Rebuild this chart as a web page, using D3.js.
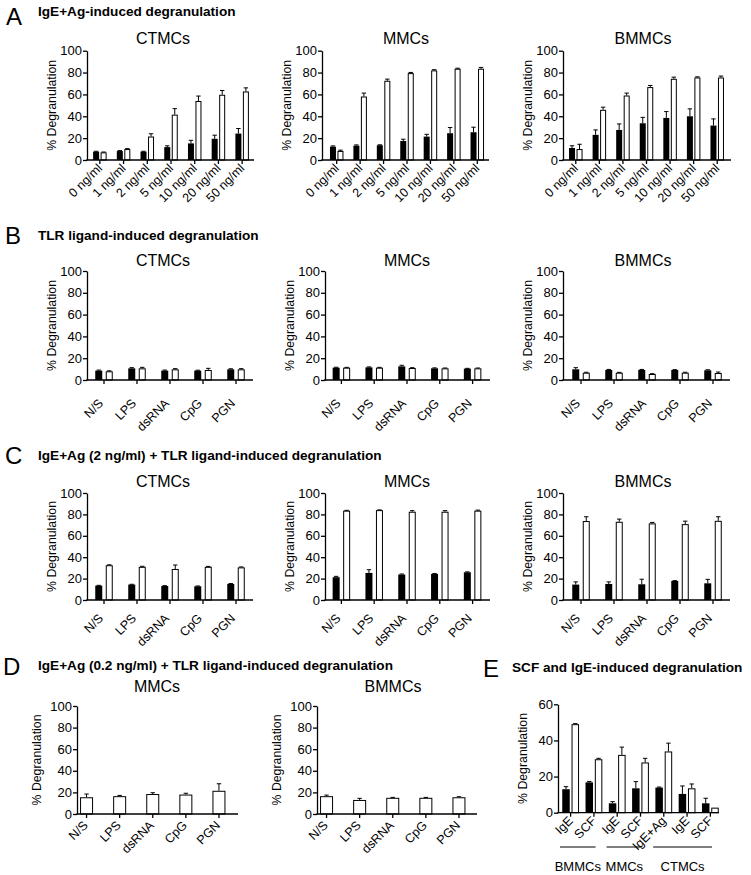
<!DOCTYPE html>
<html><head><meta charset="utf-8">
<script src="https://cdn.jsdelivr.net/npm/d3@7"></script>
<style>
body{margin:0;background:#fff}
svg text{font-family:"Liberation Sans",Arial,Helvetica,sans-serif;fill:#000}
</style>
</head><body>
<svg id="chart" width="751" height="875"></svg>
<script>
// ---------- categories / tick labels ----------
const concLabels = ["0 ng/ml","1 ng/ml","2 ng/ml","5 ng/ml","10 ng/ml","20 ng/ml","50 ng/ml"];
const tlrLabels = ["N/S","LPS","dsRNA","CpG","PGN"];
const eLabels = ["IgE","SCF","IgE","SCF","IgE+Ag","IgE","SCF"];
const eGroups = ["BMMCs","MMCs","CTMCs"];
const eGroupSpans = [[0,1],[2,3],[4,6]];
const yTicks100 = [0,20,40,60,80,100];
const yTicks60 = [0,20,40,60];

// ---------- Panel A: IgE+Ag ----------
const aCtmcsBlack    = [7.6, 8.2, 7.6, 11.8, 15.2, 19.4, 24.2];
const aCtmcsBlackErr = [0.4, 0.4, 0.4, 1.2, 2.8, 3.3, 4.6];
const aCtmcsWhite    = [7.0, 10.0, 21.5, 41.5, 54.0, 59.7, 62.7];
const aCtmcsWhiteErr = [0.3, 0.4, 2.5, 5.5, 4.5, 3.9, 3.3];
const aMmcsBlack     = [12.2, 13.1, 13.5, 17.4, 21.4, 24.5, 25.4];
const aMmcsBlackErr  = [0.7, 0.7, 0.4, 1.6, 2.1, 5.2, 4.6];
const aMmcsWhite     = [8.3, 58.1, 72.5, 79.5, 82.0, 83.5, 83.5];
const aMmcsWhiteErr  = [0.7, 3.1, 1.5, 0.6, 0.6, 0.5, 1.2];
const aBmmcsBlack    = [11.0, 23.0, 27.5, 33.6, 38.5, 40.0, 31.5];
const aBmmcsBlackErr = [2.0, 4.5, 5.5, 5.4, 5.8, 6.8, 6.1];
const aBmmcsWhite    = [10.0, 45.9, 59.0, 66.7, 74.3, 75.5, 75.5];
const aBmmcsWhiteErr = [4.4, 2.4, 2.2, 1.5, 1.5, 0.6, 1.3];

// ---------- Panel B: TLR ligand ----------
const bCtmcsBlack    = [8.6, 10.7, 8.6, 8.6, 9.8];
const bCtmcsBlackErr = [0.5, 0.6, 0.5, 0.4, 0.5];
const bCtmcsWhite    = [8.0, 10.7, 9.8, 9.2, 9.8];
const bCtmcsWhiteErr = [0.4, 0.9, 0.6, 1.5, 0.6];
const bMmcsBlack     = [11.3, 11.6, 12.5, 10.7, 10.4];
const bMmcsBlackErr  = [0.4, 0.4, 1.0, 0.4, 0.3];
const bMmcsWhite     = [11.3, 11.3, 11.0, 10.7, 10.7];
const bMmcsWhiteErr  = [0.3, 0.3, 0.3, 0.3, 0.3];
const bBmmcsBlack    = [9.8, 9.2, 9.2, 9.2, 8.9];
const bBmmcsBlackErr = [1.5, 0.5, 0.5, 0.3, 0.5];
const bBmmcsWhite    = [6.7, 6.7, 5.5, 6.7, 6.4];
const bBmmcsWhiteErr = [0.4, 0.3, 0.3, 0.4, 0.9];

// ---------- Panel C: IgE+Ag (2 ng/ml) + TLR ----------
const cCtmcsBlack    = [13.4, 14.4, 13.1, 12.8, 15.0];
const cCtmcsBlackErr = [0.3, 0.3, 0.3, 0.3, 0.4];
const cCtmcsWhite    = [32.5, 31.0, 29.0, 31.0, 30.5];
const cCtmcsWhiteErr = [0.4, 0.5, 3.7, 0.4, 0.4];
const cMmcsBlack     = [21.3, 25.3, 23.8, 24.4, 25.9];
const cMmcsBlackErr  = [0.8, 3.0, 0.5, 0.3, 0.4];
const cMmcsWhite     = [83.5, 84.0, 82.5, 82.5, 83.5];
const cMmcsWhiteErr  = [0.3, 0.2, 1.0, 1.0, 0.5];
const cBmmcsBlack    = [14.4, 15.0, 14.7, 17.8, 15.6];
const cBmmcsBlackErr = [2.5, 1.9, 4.7, 0.3, 3.7];
const cBmmcsWhite    = [73.8, 73.1, 71.6, 70.9, 74.0];
const cBmmcsWhiteErr = [4.0, 2.5, 0.9, 2.8, 3.8];

// ---------- Panel D: IgE+Ag (0.2 ng/ml) + TLR (one series) ----------
const dMmcsWhite     = [15.5, 16.5, 18.5, 18.0, 21.5];
const dMmcsWhiteErr  = [3.0, 0.7, 1.2, 1.2, 6.5];
const dBmmcsWhite    = [16.5, 13.0, 15.0, 15.0, 15.5];
const dBmmcsWhiteErr = [1.0, 1.5, 0.4, 0.4, 0.5];

// ---------- Panel E: SCF and IgE ----------
const eBlack    = [13.0, 16.8, 5.2, 13.5, 13.9, 10.4, 5.2];
const eBlackErr = [1.4, 0.5, 0.9, 3.7, 0.3, 4.4, 2.8];
const eWhite    = [49.0, 29.6, 32.0, 27.8, 33.9, 13.5, 2.8];
const eWhiteErr = [0.3, 0.5, 4.3, 2.3, 4.6, 2.4, 0.0];

// ---------- drawing ----------
const svg = d3.select("#chart");
svg.append("rect").attr("width",751).attr("height",875).attr("fill","#fff");

function heading(letter, lx, ly, text, tx, ty){
  svg.append("text").attr("x",lx).attr("y",ly).attr("font-size",24).text(letter);
  svg.append("text").attr("x",tx).attr("y",ty).attr("font-size",13.6).attr("font-weight","bold").text(text);
}

function panel(c){
  const n = c.cats.length;
  const x = d3.scaleBand().domain(d3.range(n)).range(c.band);
  const y = d3.scaleLinear().domain([0,c.yMax]).range([c.yBot,c.yTop]);
  const g = svg.append("g");
  const cx = i => x(i) + x.bandwidth()/2;
  const bw = c.bw, gap = c.gap;

  function errs(vals, errv, xc){
    vals.forEach((v,i)=>{
      const e = errv[i]; if(e<=0) return;
      const xm = xc(i);
      g.append("line").attr("x1",xm).attr("x2",xm).attr("y1",y(v)).attr("y2",y(v+e)).attr("stroke","#000").attr("stroke-width",1);
      g.append("line").attr("x1",xm-2.2).attr("x2",xm+2.2).attr("y1",y(v+e)).attr("y2",y(v+e)).attr("stroke","#000").attr("stroke-width",1);
    });
  }
  if(c.black){
    const xb = i => cx(i) - gap/2 - bw/2;
    const xw = i => cx(i) + gap/2 + bw/2;
    errs(c.black, c.blackErr, xb);
    errs(c.white, c.whiteErr, xw);
    g.selectAll(null).data(c.black).enter().append("rect")
      .attr("x",(d,i)=>xb(i)-bw/2).attr("width",bw)
      .attr("y",d=>y(d)).attr("height",d=>y(0)-y(d)).attr("fill","#000");
    g.selectAll(null).data(c.white).enter().append("rect")
      .attr("x",(d,i)=>xw(i)-bw/2+0.5).attr("width",bw-1)
      .attr("y",d=>y(d)+0.5).attr("height",d=>Math.max(0,y(0)-y(d)-0.5))
      .attr("fill","#fff").attr("stroke","#000").attr("stroke-width",1);
  } else {
    errs(c.white, c.whiteErr, cx);
    g.selectAll(null).data(c.white).enter().append("rect")
      .attr("x",(d,i)=>cx(i)-bw/2+0.5).attr("width",bw-1)
      .attr("y",d=>y(d)+0.5).attr("height",d=>Math.max(0,y(0)-y(d)-0.5))
      .attr("fill","#fff").attr("stroke","#000").attr("stroke-width",1);
  }

  // y axis
  const ya = g.append("g").attr("transform",`translate(${c.x0},0)`)
    .call(d3.axisLeft(y).tickValues(c.ticks).tickSize(4).tickSizeOuter(0).tickPadding(1));
  ya.selectAll("text").attr("font-size",13).attr("font-family","Liberation Sans, Arial, sans-serif");
  ya.selectAll("line,path").attr("stroke","#000").attr("stroke-width",1.3);

  // x axis
  const xa = g.append("g").attr("transform",`translate(0,${c.yBot})`)
    .call(d3.axisBottom(x).tickSize(4).tickSizeOuter(0).tickFormat(""));
  xa.select(".domain").remove();
  xa.selectAll("line").attr("stroke","#000").attr("stroke-width",1.3);
  g.append("line").attr("x1",c.x0-0.65).attr("x2",c.xEnd).attr("y1",c.yBot).attr("y2",c.yBot)
    .attr("stroke","#000").attr("stroke-width",1.3);

  // x labels (rotated)
  c.cats.forEach((t,i)=>{
    g.append("text").attr("transform",`translate(${cx(i)+c.ldx},${c.yBot+c.ldy}) rotate(-45)`)
      .attr("text-anchor","end").attr("font-size",12.5).text(t);
  });

  // y title
  const ym = (c.yTop+c.yBot)/2;
  g.append("text").attr("transform",`translate(${c.x0-c.ylabOff},${ym}) rotate(-90)`)
    .attr("text-anchor","middle").attr("font-size",12.3).text("% Degranulation");

  // panel title
  if(c.title){
    g.append("text").attr("x",c.titleX).attr("y",c.titleY).attr("text-anchor","middle")
      .attr("font-size",16).text(c.title);
  }
  return {x, y, cx};
}

// Headings
heading("A", 6, 25, "IgE+Ag-induced degranulation", 38, 16);
heading("B", 5, 244, "TLR ligand-induced degranulation", 38, 240);
heading("C", 5, 464, "IgE+Ag (2 ng/ml) + TLR ligand-induced degranulation", 38, 460);
heading("D", 3, 675, "IgE+Ag (0.2 ng/ml) + TLR ligand-induced degranulation", 38, 670);
heading("E", 483, 677, "SCF and IgE-induced degranulation", 512, 672);

// Row A
const A = {yTop:50.7, yBot:160, yMax:100, ticks:yTicks100, cats:concLabels, bw:6, gap:1.5, ldx:3, ldy:9, ylabOff:31};
panel(Object.assign({}, A, {x0:87,  xEnd:254, band:[88,254],   black:aCtmcsBlack, blackErr:aCtmcsBlackErr, white:aCtmcsWhite, whiteErr:aCtmcsWhiteErr, title:"CTMCs", titleX:163, titleY:44}));
panel(Object.assign({}, A, {x0:322, xEnd:489, band:[325,489],  black:aMmcsBlack,  blackErr:aMmcsBlackErr,  white:aMmcsWhite,  whiteErr:aMmcsWhiteErr,  title:"MMCs",  titleX:406, titleY:44}));
panel(Object.assign({}, A, {x0:563, xEnd:731, band:[564,729],  black:aBmmcsBlack, blackErr:aBmmcsBlackErr, white:aBmmcsWhite, whiteErr:aBmmcsWhiteErr, title:"BMMCs", titleX:643, titleY:44}));

// Row B
const B = {yTop:271, yBot:380, yMax:100, ticks:yTicks100, cats:tlrLabels, bw:7, gap:3.5, ldx:0, ldy:24, ylabOff:31};
panel(Object.assign({}, B, {x0:87,  xEnd:253, band:[87.5,252.5], black:bCtmcsBlack, blackErr:bCtmcsBlackErr, white:bCtmcsWhite, whiteErr:bCtmcsWhiteErr, title:"CTMCs", titleX:163, titleY:266}));
panel(Object.assign({}, B, {x0:325, xEnd:490, band:[325,489],     black:bMmcsBlack,  blackErr:bMmcsBlackErr,  white:bMmcsWhite,  whiteErr:bMmcsWhiteErr,  title:"MMCs",  titleX:407, titleY:266}));
panel(Object.assign({}, B, {x0:563, xEnd:730, band:[564.5,729.5], black:bBmmcsBlack, blackErr:bBmmcsBlackErr, white:bBmmcsWhite, whiteErr:bBmmcsWhiteErr, title:"BMMCs", titleX:643, titleY:266}));

// Row C
const C = {yTop:493, yBot:600, yMax:100, ticks:yTicks100, cats:tlrLabels, bw:7, gap:3.5, ldx:0, ldy:19, ylabOff:31};
panel(Object.assign({}, C, {x0:87,  xEnd:253, band:[87.5,252.5], black:cCtmcsBlack, blackErr:cCtmcsBlackErr, white:cCtmcsWhite, whiteErr:cCtmcsWhiteErr, title:"CTMCs", titleX:163, titleY:487}));
panel(Object.assign({}, C, {x0:325, xEnd:490, band:[325,489],     black:cMmcsBlack,  blackErr:cMmcsBlackErr,  white:cMmcsWhite,  whiteErr:cMmcsWhiteErr,  title:"MMCs",  titleX:407, titleY:487}));
panel(Object.assign({}, C, {x0:563, xEnd:730, band:[564.5,729.5], black:cBmmcsBlack, blackErr:cBmmcsBlackErr, white:cBmmcsWhite, whiteErr:cBmmcsWhiteErr, title:"BMMCs", titleX:643, titleY:487}));

// Row D
const D = {yTop:706, yBot:814, yMax:100, ticks:yTicks100, cats:tlrLabels, bw:13, gap:0, ldx:2, ldy:12, ylabOff:36};
panel(Object.assign({}, D, {x0:77,  xEnd:238, band:[70,235.5],  white:dMmcsWhite,  whiteErr:dMmcsWhiteErr,  title:"MMCs",  titleX:157, titleY:692}));
panel(Object.assign({}, D, {x0:317, xEnd:477, band:[310,475.5], white:dBmmcsWhite, whiteErr:dBmmcsWhiteErr, title:"BMMCs", titleX:393, titleY:692}));

// Row E
const E = panel({x0:558, xEnd:719, band:[559,722], yTop:704.3, yBot:812.7, yMax:60, ticks:yTicks60,
  cats:eLabels, bw:7.5, gap:1.8, ldx:3, ldy:9, ylabOff:31,
  black:eBlack, blackErr:eBlackErr, white:eWhite, whiteErr:eWhiteErr});
// group brackets
eGroups.forEach((gname,k)=>{
  const [a,b] = eGroupSpans[k];
  const x1 = E.x(a) + 1, x2 = E.x(b) + E.x.bandwidth() - 10;
  svg.append("line").attr("x1",x1).attr("x2",x2).attr("y1",847).attr("y2",847).attr("stroke","#000").attr("stroke-width",1);
  svg.append("text").attr("x",(x1+x2)/2).attr("y",871).attr("text-anchor","middle").attr("font-size",13).text(gname);
});
</script>
</body></html>
